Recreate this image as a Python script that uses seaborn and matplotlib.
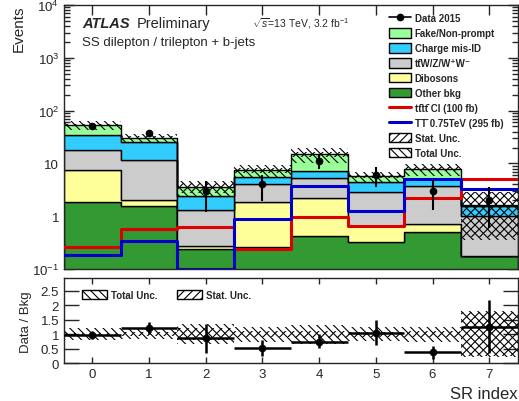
import numpy as np
import pandas as pd
import matplotlib
matplotlib.use("Agg")
import matplotlib.pyplot as plt
import seaborn as sns
from matplotlib.patches import Patch
from matplotlib.lines import Line2D
from matplotlib.ticker import LogLocator, NullFormatter

# ---------------- data ----------------
sr_index = [0, 1, 2, 3, 4, 5, 6, 7]
other_bkg = [1.89, 1.59, 0.236, 0.26, 0.42, 0.325, 0.50, 0.177]
dibosons = [5.71, 0.47, 0.041, 1.58, 1.77, 0.315, 0.20, 0.003]
ttv = [10.0, 9.34, 1.02, 2.19, 3.10, 2.28, 3.1, 0.85]
charge_misid = [17.0, 14.1, 1.15, 1.42, 1.97, 1.47, 1.3, 0.56]
fake_nonprompt = [18.4, 5.0, 1.05, 2.0, 7.54, 1.31, 2.8, 0.03]
data_2015 = [52, 37, 3, 4, 11, 6, 3, 2]
data_err_lo = [7.0, 6.0, 1.8, 2.1, 3.3, 2.5, 1.7, 1.4]
data_err_hi = [7.0, 6.5, 1.7, 1.9, 3.9, 2.4, 1.8, 1.5]
signal_tttt = [0.262, 0.58, 0.62, 0.243, 0.95, 0.64, 2.2, 5.1]
signal_TT = [0.185, 0.34, 0.1, 0.89, 3.69, 1.25, 5.06, 3.3]
total_unc = [0.20, 0.17, 0.35, 0.26, 0.32, 0.23, 0.26, 0.78]
stat_unc = [0.05, 0.06, 0.20, 0.10, 0.12, 0.08, 0.10, 0.75]

proc_names = ["Fake/Non-prompt", "Charge mis-ID", "tt\u0304W/Z/W\u207aW\u207b",
              "Dibosons", "Other bkg"]
proc_values = [fake_nonprompt, charge_misid, ttv, dibosons, other_bkg]
proc_colors = ["#99FF99", "#33CCFF", "#CCCCCC", "#FFFF99", "#339933"]
sig_names = ["tt\u0304tt\u0304 CI (100 fb)", "TT\u0304 0.75TeV (295 fb)"]

# ---------------- style ----------------
sns.set_theme(style="ticks")
plt.rcParams["font.family"] = ["Liberation Sans", "DejaVu Sans"]
plt.rcParams["mathtext.fontset"] = "custom"
plt.rcParams["mathtext.rm"] = "Liberation Sans"
plt.rcParams["mathtext.it"] = "Liberation Sans:italic"
plt.rcParams["mathtext.bf"] = "Liberation Sans:bold"
plt.rcParams["hatch.linewidth"] = 0.8
plt.rcParams["axes.linewidth"] = 1.0

W, H = 519, 402
fig = plt.figure(figsize=(W / 100, H / 100), dpi=100)
ax = fig.add_axes([64 / W, 1 - 270 / H, 453.6 / W, 264 / H])
rax = fig.add_axes([64 / W, 1 - 364.3 / H, 453.6 / W, 85 / H])

sr = np.array(sr_index)
total = np.sum(np.array(proc_values), axis=0)

# ---------------- main panel ----------------
ax.set_yscale("log")
rows = []
for name, vals in zip(proc_names, proc_values):
    for i, v in zip(sr_index, vals):
        rows.append({"sr": i, "events": v, "process": name})
df = pd.DataFrame(rows)

sns.histplot(data=df, x="sr", weights="events", hue="process", hue_order=proc_names,
             palette=proc_colors, multiple="stack", discrete=True, element="step",
             fill=True, alpha=1, edgecolor="black", linewidth=1.0, legend=False, ax=ax)

# uncertainty bands
tu = np.array(total_unc)
su = np.array(stat_unc)
ax.bar(sr, 2 * tu * total, bottom=total * (1 - tu), width=1.0, fill=False,
       hatch="\\\\\\\\", edgecolor="black", linewidth=0, zorder=3)
ax.bar(sr, 2 * su * total, bottom=total * (1 - su), width=1.0, fill=False,
       hatch="////", edgecolor="black", linewidth=0, zorder=3)

# signals
sig_df = pd.DataFrame({"sr": sr_index, "tttt": signal_tttt, "TT": signal_TT})
sns.histplot(data=sig_df, x="sr", weights="tttt", discrete=True, element="step", fill=False,
             color="#DD0000", linewidth=2.2, ax=ax, zorder=4)
sns.histplot(data=sig_df, x="sr", weights="TT", discrete=True, element="step", fill=False,
             color="#0000CC", linewidth=2.2, ax=ax, zorder=4)

# data
ax.errorbar(sr, data_2015, yerr=[data_err_lo, data_err_hi], fmt="o", color="black",
            markersize=4.5, elinewidth=1.5, capsize=0, zorder=5)

ax.set_xlim(-0.5, 7.5)
ax.set_ylim(0.1, 1e4)
ax.set_xlabel("")
ax.set_ylabel("Events", fontsize=11, loc="top")
ax.yaxis.set_label_coords(-0.085, 1.0)
ax.set_xticks(sr_index)
ax.set_xticklabels([])
ax.yaxis.set_minor_locator(LogLocator(base=10, subs=np.arange(2, 10), numticks=20))
ax.yaxis.set_minor_formatter(NullFormatter())
ax.set_yticks([0.1, 1, 10, 100, 1000, 10000])
ax.set_yticklabels([r"$10^{-1}$", "1", "10", r"$10^{2}$", r"$10^{3}$", r"$10^{4}$"])
ax.tick_params(axis="both", which="major", direction="in", top=True, right=True,
               labelsize=9.5, length=7, width=1)
ax.tick_params(axis="y", which="minor", direction="in", right=True, length=4, width=1)
ax.tick_params(axis="x", which="minor", bottom=False, top=False)

# texts
ax.text(0.040, 0.917, "ATLAS", transform=ax.transAxes, fontsize=10.5,
        fontweight="bold", fontstyle="italic", va="baseline")
ax.text(0.160, 0.917, "Preliminary", transform=ax.transAxes, fontsize=10.5, va="baseline")
ax.text(0.415, 0.917, r"$\sqrt{s}$=13 TeV, 3.2 fb$^{-1}$", transform=ax.transAxes,
        fontsize=7.5, va="baseline")
ax.text(0.040, 0.850, "SS dilepton / trilepton + b-jets", transform=ax.transAxes,
        fontsize=9.5, va="baseline")

# legend
handles = [Line2D([], [], color="black", marker="o", markersize=4.5, linewidth=1.2)]
labels = ["Data 2015"]
for name, col in zip(proc_names, proc_colors):
    handles.append(Patch(facecolor=col, edgecolor="black", linewidth=1))
    labels.append(name)
handles.append(Line2D([], [], color="#DD0000", linewidth=2.2))
labels.append(sig_names[0])
handles.append(Line2D([], [], color="#0000CC", linewidth=2.2))
labels.append(sig_names[1])
handles.append(Patch(facecolor="white", edgecolor="black", hatch="////", linewidth=1))
labels.append("Stat. Unc.")
handles.append(Patch(facecolor="white", edgecolor="black", hatch="\\\\\\\\", linewidth=1))
labels.append("Total Unc.")
ax.legend(handles, labels, loc="upper right", bbox_to_anchor=(0.987, 1.0), frameon=False,
          prop={"weight": "bold", "size": 7}, handlelength=2.3, handleheight=1.1,
          labelspacing=0.51, handletextpad=0.4, borderaxespad=0.45)

# ---------------- ratio panel ----------------
ratio = np.array(data_2015) / total
r_lo = np.array(data_err_lo) / total
r_hi = np.array(data_err_hi) / total
rax.bar(sr, 2 * tu, bottom=1 - tu, width=1.0, fill=False, hatch="\\\\\\\\",
        edgecolor="black", linewidth=0, zorder=2)
rax.bar(sr, 2 * su, bottom=1 - su, width=1.0, fill=False, hatch="////",
        edgecolor="black", linewidth=0, zorder=2)
rax.errorbar(sr, ratio, yerr=[r_lo, r_hi], xerr=0.5, fmt="o", color="black",
             markersize=4.5, elinewidth=1.8, capsize=0, zorder=5)
rax.set_xlim(-0.5, 7.5)
rax.set_ylim(0, 2.92)
rax.set_xticks(sr_index)
rax.set_yticks([0, 0.5, 1, 1.5, 2, 2.5])
rax.set_yticklabels(["0", "0.5", "1", "1.5", "2", "2.5"])
rax.tick_params(axis="both", which="major", direction="in", top=True, right=True,
                labelsize=9.5, width=1)
rax.tick_params(axis="y", which="major", length=11)
rax.tick_params(axis="x", which="major", length=4)
rax.set_ylabel("Data / Bkg", fontsize=9.5)
rax.yaxis.set_label_coords(-0.07, 0.5)
rax.set_xlabel("SR index", fontsize=12, loc="right")
rleg_h = [Patch(facecolor="white", edgecolor="black", hatch="\\\\\\\\", linewidth=1),
          Patch(facecolor="white", edgecolor="black", hatch="////", linewidth=1)]
rax.legend(rleg_h, ["Total Unc.", "Stat. Unc."], loc="upper left", ncol=2,
           bbox_to_anchor=(0.02, 0.97), frameon=False, prop={"weight": "bold", "size": 7},
           handlelength=2.6, handleheight=1.1, handletextpad=0.4, columnspacing=2.0)

fig.savefig("out.png", dpi=100)
